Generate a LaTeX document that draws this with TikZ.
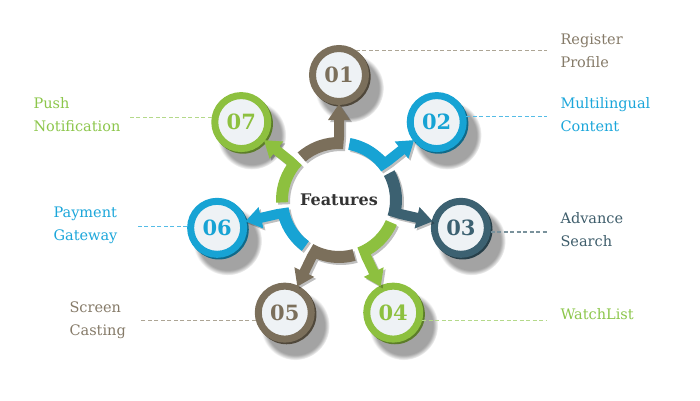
\documentclass[tikz,border=0pt]{standalone}
\usepackage{fontspec}
\setmainfont{DejaVu Serif}
\usepackage{tikz}
\usetikzlibrary{shadows,fadings}
\definecolor{ftbrown}{HTML}{7B6F5B}
\definecolor{ftblue}{HTML}{17A3D4}
\definecolor{ftteal}{HTML}{3C6171}
\definecolor{ftgreen}{HTML}{8DC03F}
\definecolor{ftcore}{HTML}{EEF2F5}
\definecolor{ftink}{HTML}{333333}
\definecolor{txbrown}{HTML}{857A68}
\definecolor{txblue}{HTML}{1BA6DA}
\definecolor{txteal}{HTML}{3E5D6B}
\definecolor{txgreen}{HTML}{8CC64B}
\definecolor{lnbrown}{HTML}{ADA595}
\definecolor{lnblue}{HTML}{55BCE6}
\definecolor{lnteal}{HTML}{7A929C}
\definecolor{lngreen}{HTML}{B4D98A}

\begin{document}
\begin{tikzpicture}[x=1pt, y=1pt, font=\fontsize{14.5}{23}\selectfont]
  \tikzset{seg/.style={fill=#1, drop shadow={shadow xshift=2pt, shadow yshift=-2pt, opacity=.25, fill=black}},
           badge/.style={circle, inner sep=0pt, minimum size=53pt, line width=7pt, draw=#1, fill=ftcore, text=#1,
             font=\fontsize{21}{21}\selectfont\bfseries,
             circular drop shadow={shadow xshift=8pt, shadow yshift=-10pt, shadow scale=1.3, opacity=.45, fill=black!80},
             general shadow={fill=#1!65!black, shadow xshift=1.5pt, shadow yshift=-1.5pt, shadow scale=1.13}},
           lbl/.style={anchor=west, align=left, text=#1},
           lead/.style={draw=#1, line width=1.1pt, dash pattern=on 4pt off 2.5pt}}
  \useasboundingbox (0,0) rectangle (700,400);
  % hub
  \node[circle, minimum size=100pt, fill=white, text=ftink, font=\fontsize{16}{16}\selectfont\bfseries] (hub) at (339,200) {Features};
  % badges, then ring segments on top of their shadows
  \foreach \i/\a/\c in {1/90/ftbrown, 2/38.57/ftblue, 3/-12.86/ftteal, 4/-64.29/ftgreen, 5/-115.71/ftbrown, 6/-167.14/ftblue, 7/141.43/ftgreen} {
    \path (hub) ++(\a:125) node[badge=\c] (b\i) {0\i};
    \fill[seg=\c, shift={(hub.center)}, rotate=\a]
      (41:51) -- (41:63) arc[start angle=41, end angle=4.55, radius=63] -- (80,5) -- (80,11) -- (96,0) -- (80,-11) -- (80,-5)
      -- (-4.55:63) -- (-4.55:51) arc[start angle=-4.55, end angle=41, radius=51] -- cycle;
  }
  % labels
  \node[lbl=txbrown] (l1) at (557,349) {Register\\Profile};
  \node[lbl=txblue] (l2) at (557,285) {Multilingual\\Content};
  \node[lbl=txteal] (l3) at (557,170) {Advance\\Search};
  \node[lbl=txgreen] (l4) at (557,85.5) {WatchList};
  \node[lbl=txbrown] (l5) at (66,80) {Screen\\Casting};
  \node[lbl=txblue] (l6) at (50,175) {Payment\\Gateway};
  \node[lbl=txgreen] (l7) at (30,285) {Push\\Notification};
  % leaders
  \draw[lead=lnbrown, shorten >=10pt] (b1.56) -- (b1.56 -| l1.west);
  \draw[lead=lnblue, shorten >=10pt] (b2.10) -- (b2.10 -| l2.west);
  \draw[lead=lnteal, shorten >=10pt] (b3.-8) -- (b3.-8 -| l3.west);
  \draw[lead=lngreen, shorten >=10pt] (b4.-16) -- (b4.-16 -| l4.west);
  \draw[lead=lnbrown, shorten >=12pt] (b5.196) -- (b5.196 -| l5.east);
  \draw[lead=lnblue, shorten >=16pt] (b6.178.5) -- (b6.178.5 -| l6.east);
  \draw[lead=lngreen, shorten >=6pt] (b7.172.5) -- (b7.172.5 -| l7.east);
\end{tikzpicture}
\end{document}
